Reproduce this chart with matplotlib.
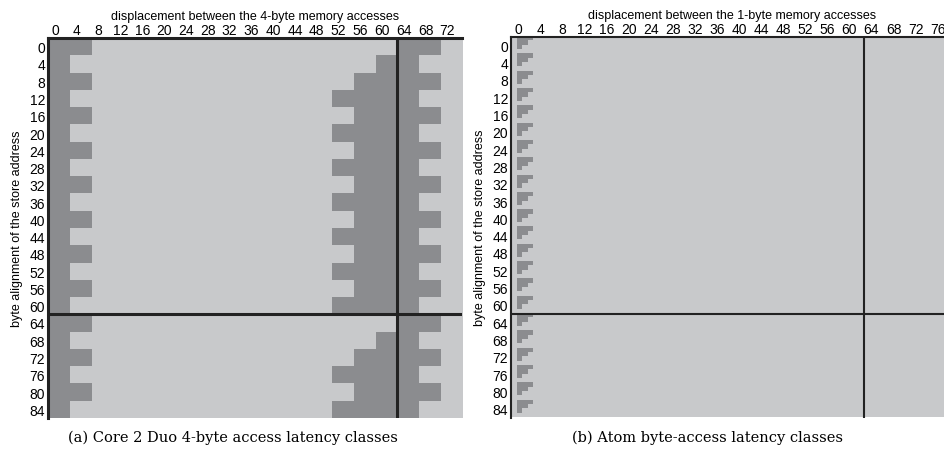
import numpy as np
import matplotlib
matplotlib.use("Agg")
import matplotlib.pyplot as plt
from matplotlib.colors import ListedColormap

# latency classes (0 = light / common class, 1 = dark)
# Core 2 Duo: one character per 4x4 block (rows: store alignment 0..84, cols: displacement 0..72)
core2_rows = [
    "1100000000000000110",
    "1000000000000001100",
    "1100000000000011110",
    "1000000000000111100",
    "1100000000000011110",
    "1000000000000111100",
    "1100000000000011110",
    "1000000000000111100",
    "1100000000000011110",
    "1000000000000111100",
    "1100000000000011110",
    "1000000000000111100",
    "1100000000000011110",
    "1000000000000111100",
    "1100000000000011110",
    "1000000000000111100",
    "1100000000000000110",
    "1000000000000001100",
    "1100000000000011110",
    "1000000000000111100",
    "1100000000000011110",
    "1000000000000111100",
]
core2_block = 4

# Atom: byte resolution, the same 4-row staircase repeats for every 4 alignments
atom_pattern = [
    "01110",
    "01100",
    "01000",
    "00000",
]
atom_rows = 88
atom_cols = 80

x_ticks_a = list(range(0, 73, 4))
x_ticks_b = list(range(0, 77, 4))
y_ticks = list(range(0, 85, 4))

light = "#c8c9cb"
dark = "#8b8c8f"
line_col = "#222222"
cmap = ListedColormap([light, dark])

plt.rcParams["font.family"] = ["Liberation Sans", "DejaVu Sans"]
plt.rcParams["font.size"] = 9

W, H = 945, 452
fig = plt.figure(figsize=(W / 100, H / 100), dpi=100)

core2 = np.array([[int(c) for c in r] for r in core2_rows])
core2 = np.repeat(np.repeat(core2, core2_block, axis=0), core2_block, axis=1)

block = np.array([[int(c) for c in r] for r in atom_pattern])
atom = np.zeros((atom_rows, atom_cols), dtype=int)
atom[:, :block.shape[1]] = np.tile(block, (atom_rows // len(atom_pattern), 1))


def setup(ax, grid, xticks, lw, xlabel):
    nrow, ncol = grid.shape
    ax.imshow(grid, cmap=cmap, vmin=0, vmax=1, interpolation="nearest",
              aspect="auto", extent=(0, ncol, nrow, 0))
    ax.axvline(64, color=line_col, lw=lw)
    ax.axhline(64, color=line_col, lw=lw)
    ax.set_xlim(0, ncol)
    ax.set_ylim(nrow, 0)
    ax.xaxis.tick_top()
    ax.xaxis.set_label_position("top")
    ax.set_xticks([t + 1.3 for t in xticks])
    ax.set_xticklabels([str(t) for t in xticks])
    ax.set_yticks([t + 2 for t in y_ticks])
    ax.set_yticklabels([str(t) for t in y_ticks])
    ax.tick_params(length=0, labelsize=10)
    ax.tick_params(axis="x", pad=0.5)
    ax.tick_params(axis="y", pad=2)
    ax.set_xlabel(xlabel, fontsize=9, labelpad=3)
    ax.set_ylabel("byte alignment of the store address", fontsize=9, labelpad=5)
    for s in ("right", "bottom"):
        ax.spines[s].set_visible(False)
    for s in ("top", "left"):
        ax.spines[s].set_linewidth(lw)
        ax.spines[s].set_color(line_col)


ax1 = fig.add_axes([48 / W, (H - 419) / H, 414.2 / W, 380 / H])
setup(ax1, core2, x_ticks_a, 2.2, "displacement between the 4-byte memory accesses")

ax2 = fig.add_axes([511 / W, (H - 418.5) / H, 441.6 / W, 381 / H])
setup(ax2, atom, x_ticks_b, 1.5, "displacement between the 1-byte memory accesses")

fig.text(233 / W, 1 - 438 / H, "(a) Core 2 Duo 4-byte access latency classes",
         family="DejaVu Serif", fontsize=10.5, ha="center", va="center")
fig.text(708 / W, 1 - 438 / H, "(b) Atom byte-access latency classes",
         family="DejaVu Serif", fontsize=10.5, ha="center", va="center")

fig.savefig("out.png", dpi=100)
